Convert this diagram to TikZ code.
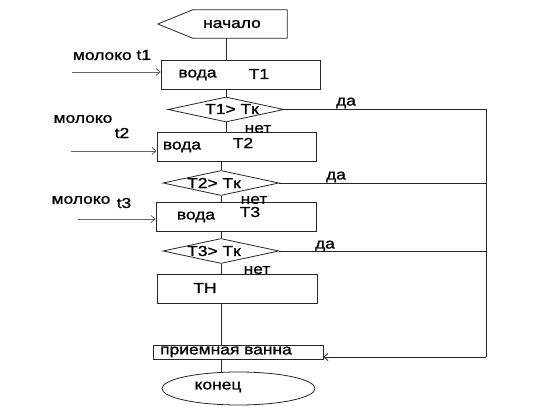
\documentclass[tikz,border=0pt]{standalone}
\usepackage{fontspec}
\setmainfont{Liberation Sans}[FakeStretch=1.2, FakeBold=1.2]
\usetikzlibrary{positioning, arrows.meta, shapes.geometric, calc}

\begin{document}
\begin{tikzpicture}[
    x=1pt, y=-1pt,
    font=\fontsize{14.5}{16}\selectfont,
    line/.style={draw=black!85, line width=0.8pt},
    arrow/.style={line, -{Straight Barb[length=4pt,width=7pt]}},
    feed/.style={arrow, draw=black!60},
    block/.style={
        rectangle, draw=black!85, line width=0.8pt,
        minimum width=159pt, minimum height=29pt, inner sep=0pt
    },
    decision/.style={
        diamond, aspect=4.6, draw=black!85, line width=0.8pt,
        minimum width=116pt, minimum height=25pt, inner sep=0pt
    },
    lbl/.style={inner sep=0pt},
]
\fill[white] (0,0) rectangle (539,412);
\useasboundingbox (0,0) rectangle (539,412);

% ---------- Start ----------
\node[lbl, minimum width=94pt, minimum height=28pt] (start) at (240,24) {};
\draw[line] (start.south east) -- (start.north east) -- (start.north west)
    -- ([xshift=-35pt]start.west) -- (start.south west) -- cycle;
\node[lbl] (startlbl) at (232,24) {начало};

% ---------- Heating blocks ----------
\node[block] (box1) at (240.5,74.5) {};
\node[lbl] (water1) at (197.5,75) {вода};
\node[lbl] (temp1) at (259,74) {T1};

\node[block] (box2) at (236.5,146.5) {};
\node[lbl] (water2) at (182,147) {вода};
\node[lbl] (temp2) at (243,143) {T2};

\node[block, minimum width=160pt] (box3) at (236,216.5) {};
\node[lbl] (water3) at (196,217) {вода};
\node[lbl] (temp3) at (250,212) {T3};

\node[block, minimum width=160pt] (box4) at (237,288.5) {};
\node[lbl] (temp4) at (205,288) {ТН};

% ---------- Decisions ----------
\node[decision] (cond1) at (226,109.5) {};
\node[lbl] (cond1lbl) at (232,109) {T1> Tк};
\node[decision] (cond2) at (221,183) {};
\node[lbl] (cond2lbl) at (214,183) {T2> Tк};
\node[decision] (cond3) at (221,251) {};
\node[lbl] (cond3lbl) at (214,251) {T3> Tк};

\node[lbl] (no1) at (258,129) {нет};
\node[lbl] (no2) at (254,200) {нет};
\node[lbl] (no3) at (257,270) {нет};

\node[lbl] (yes1) at (346,103) {да};
\node[lbl] (yes2) at (336,177) {да};
\node[lbl] (yes3) at (325,246) {да};

% ---------- Bath and end ----------
\node[block, minimum width=170pt, minimum height=14pt] (bath) at (238,352) {};
\node[lbl] (bathlbl) at (226,352) {приемная ванна};
\node[ellipse, draw=black!85, line width=0.8pt, minimum width=153pt,
    minimum height=33pt, inner sep=0pt] (finish) at (238.5,388.5) {};
\node[lbl] (finishlbl) at (218,387) {конец};

% ---------- Milk inputs ----------
\node[lbl] (milk1lbl) at (112,55) {молоко t1};
\node[lbl] (milk2lbl) at (83,119) {молоко};
\node[lbl] (milk2t) at (122,133) {t2};
\node[lbl] (milk3lbl) at (81,200) {молоко};
\node[lbl] (milk3t) at (124,203) {t3};

\coordinate (milk1) at (72,72);
\coordinate (milk2) at (71,151);
\coordinate (milk3) at (78,219);
\draw[feed] (milk1) -- (milk1 -| box1.west);
\draw[feed] (milk2) -- (milk2 -| box2.west);
\draw[feed] (milk3) -- (milk3 -| box3.west);

% ---------- Main line ----------
\draw[line] (start.south -| cond1) -- (box1.north -| cond1);
\draw[line] (box1.south -| cond1) -- (cond1.north);
\draw[line] (cond1.south) -- (box2.north -| cond1);
\draw[line] (box2.south -| cond2) -- (cond2.north);
\draw[line] (cond2.south) -- (box3.north -| cond2);
\draw[line] (box3.south -| cond3) -- (cond3.north);
\draw[line] (cond3.south) -- (box4.north -| cond3);
\draw[line] (box4.south -| cond3) -- (bath.north -| cond3);
\draw[line] (bath.south -| cond3) -- (finish.north -| cond3);

% ---------- Yes branches ----------
\coordinate (corner) at (486,357);
\draw[line] (cond1.east) -- (cond1.east -| corner) -- (corner);
\draw[line] (cond2.east) -- (cond2.east -| corner);
\draw[line] (cond3.east) -- (cond3.east -| corner);
\draw[arrow] (corner) -- (corner -| bath.east);

\end{tikzpicture}
\end{document}
